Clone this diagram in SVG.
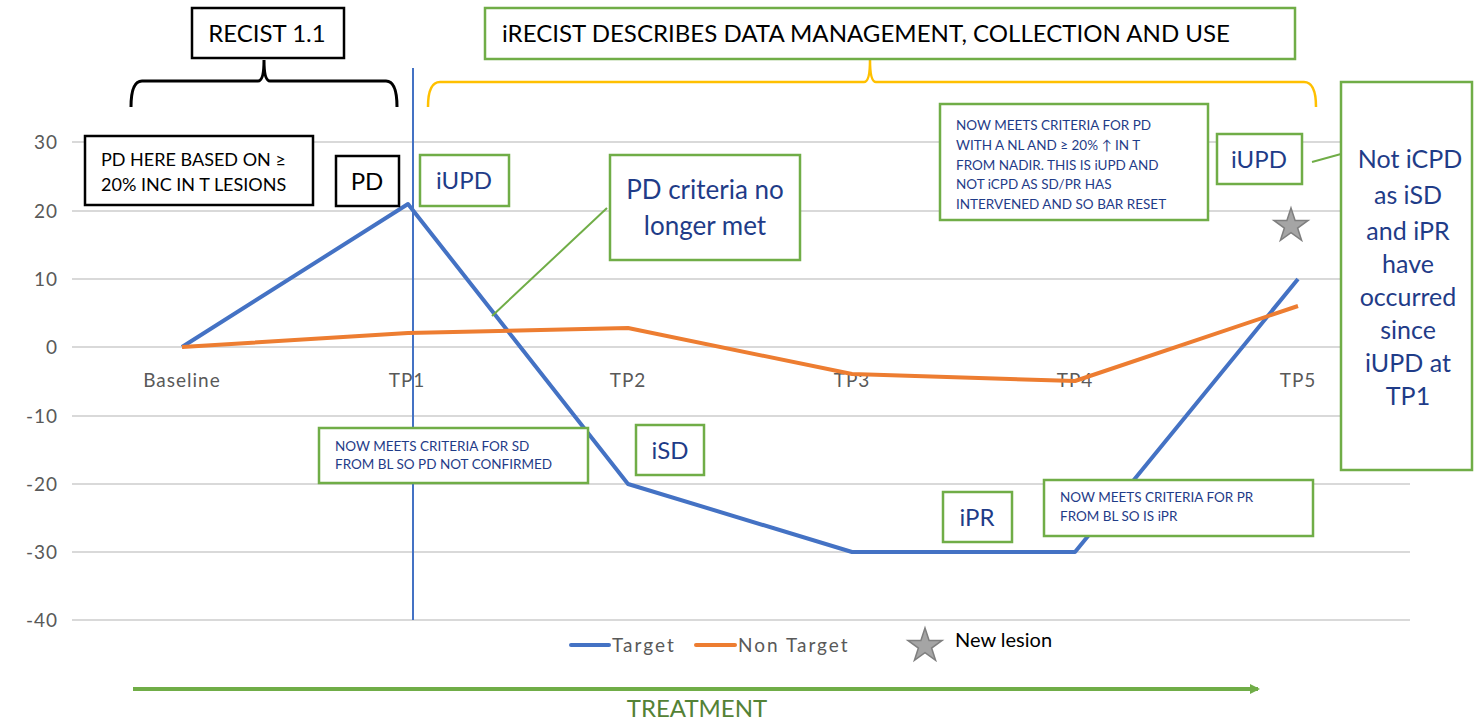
<svg xmlns="http://www.w3.org/2000/svg" width="1476" height="721" viewBox="0 0 1476 721">
<style>
.grid{stroke:#d9d9d9;stroke-width:2}
.ax{font-family:Lato,"Liberation Sans",sans-serif;font-size:19px;fill:#595959}
.bk{fill:#fff;stroke:#000;stroke-width:2.5}
.gn{fill:#fff;stroke:#70ad47;stroke-width:2.5}
.t{font-family:Lato,"Liberation Sans",sans-serif;fill:#000}
.nv{font-family:Lato,"Liberation Sans",sans-serif;fill:#1f3c88}
.sm{font-size:13.5px}
.star{fill:#a5a5a5;stroke:#7f7f7f;stroke-width:1.5}
</style>
<defs>
<marker id="ah" markerWidth="10" markerHeight="10" refX="8" refY="5" orient="auto" markerUnits="userSpaceOnUse"><path d="M0,0 L10,5 L0,10 z" fill="#70ad47"/></marker>
</defs>
<rect width="1476" height="721" fill="#fff"/>
<g id="axes">
<line class="grid" x1="72" y1="142" x2="1410" y2="142"/>
<line class="grid" x1="72" y1="211" x2="1410" y2="211"/>
<line class="grid" x1="72" y1="279" x2="1410" y2="279"/>
<line class="grid" x1="72" y1="347" x2="1410" y2="347"/>
<line class="grid" x1="72" y1="416" x2="1410" y2="416"/>
<line class="grid" x1="72" y1="484" x2="1410" y2="484"/>
<line class="grid" x1="72" y1="552" x2="1410" y2="552"/>
<line class="grid" x1="72" y1="620" x2="1410" y2="620"/>
<g class="ax" text-anchor="end" letter-spacing="1">
<text x="58" y="149">30</text><text x="58" y="218">20</text><text x="58" y="286">10</text><text x="58" y="354">0</text>
<text x="58" y="423">-10</text><text x="58" y="491">-20</text><text x="58" y="559">-30</text><text x="58" y="627">-40</text>
</g>
<g class="ax" text-anchor="middle" letter-spacing="1">
<text x="182" y="387">Baseline</text><text x="407" y="387">TP1</text><text x="628" y="387">TP2</text><text x="852" y="387">TP3</text><text x="1075" y="387">TP4</text><text x="1298" y="387">TP5</text>
</g>
</g>
<g id="connectors">
<line x1="413" y1="68" x2="413" y2="620" stroke="#4472c4" stroke-width="2"/>
<polyline points="182,347 408,204 628,484 852,552 1075,552 1298,279" fill="none" stroke="#4472c4" stroke-width="4" stroke-linejoin="round"/>
<polyline points="182,347 408,333 628,328 852,374 1075,381 1298,306" fill="none" stroke="#ed7d31" stroke-width="4" stroke-linejoin="round"/>
<path d="M131,107 Q131,81 142,81 L258,81 Q264,81 264,60 Q264,81 270,81 L386,81 Q397,81 397,107" fill="none" stroke="#000" stroke-width="3"/>
<path d="M428,107 Q428,82 440,82 L864,82 Q870,82 870,60 Q870,82 876,82 L1304,82 Q1316,82 1316,107" fill="none" stroke="#ffc000" stroke-width="2.5"/>
<line x1="607" y1="208" x2="492" y2="316" stroke="#70ad47" stroke-width="2"/>
<line x1="1312" y1="162" x2="1341" y2="154" stroke="#70ad47" stroke-width="2"/>
<line x1="133" y1="689" x2="1258" y2="689" stroke="#70ad47" stroke-width="4" marker-end="url(#ah)"/>
</g>
<g id="recist"><rect class="bk" x="192" y="8" width="152" height="50"/><text class="t" x="267" y="42" font-size="24" text-anchor="middle">RECIST 1.1</text></g>
<g id="irecist"><rect class="gn" x="485" y="8" width="810" height="51"/><text class="t" x="502" y="42" font-size="24" textLength="728" lengthAdjust="spacingAndGlyphs">iRECIST DESCRIBES DATA MANAGEMENT, COLLECTION AND USE</text></g>
<g id="pdhere"><rect class="bk" x="85" y="136" width="228" height="69"/><text class="t" x="101" y="166" font-size="18">PD HERE BASED ON ≥</text><text class="t" x="101" y="191" font-size="18">20% INC IN T LESIONS</text></g>
<g id="pd"><rect class="bk" x="336" y="156" width="63" height="50"/><text class="t" x="367" y="190" font-size="24" text-anchor="middle">PD</text></g>
<g id="iupd1"><rect class="gn" x="420" y="155" width="89" height="51"/><text class="nv" x="464" y="189" font-size="24" text-anchor="middle">iUPD</text></g>
<g id="pdcrit"><rect class="gn" x="610" y="155" width="190" height="105"/><text class="nv" x="705" y="199" font-size="26" text-anchor="middle">PD criteria no</text><text class="nv" x="705" y="235" font-size="26" text-anchor="middle">longer met</text></g>
<g id="pdnote"><rect class="gn" x="940" y="104" width="268" height="116"/>
<text class="nv sm" x="956" y="130">NOW MEETS CRITERIA FOR PD</text>
<text class="nv sm" x="956" y="150">WITH A NL AND ≥ 20% ↑  IN T</text>
<text class="nv sm" x="956" y="170">FROM NADIR.  THIS IS iUPD AND</text>
<text class="nv sm" x="956" y="189">NOT iCPD AS SD/PR HAS</text>
<text class="nv sm" x="956" y="209">INTERVENED AND SO BAR RESET</text></g>
<g id="iupd2"><rect class="gn" x="1217" y="134" width="85" height="50"/><text class="nv" x="1259" y="168" font-size="24" text-anchor="middle">iUPD</text></g>
<g id="noticpd"><rect class="gn" x="1341" y="82" width="131" height="388"/>
<g class="nv" font-size="25" text-anchor="middle">
<text x="1410" y="168">Not iCPD</text><text x="1408" y="204">as iSD</text><text x="1408" y="240">and iPR</text><text x="1408" y="273">have</text><text x="1408" y="306">occurred</text><text x="1408" y="339">since</text><text x="1408" y="372">iUPD at</text><text x="1408" y="405">TP1</text>
</g></g>
<g id="newlesion-star"><polygon class="star" points="1291,208 1295.1,220.4 1308.1,220.4 1297.6,228.1 1301.6,240.4 1291,232.7 1280.4,240.4 1284.4,228.1 1273.9,220.4 1286.9,220.4"/></g>
<g id="sdnote"><rect class="gn" x="319" y="428" width="269" height="55"/><text class="nv sm" x="335" y="451">NOW MEETS CRITERIA FOR SD</text><text class="nv sm" x="335" y="469">FROM BL SO PD NOT CONFIRMED</text></g>
<g id="isd"><rect class="gn" x="636" y="425" width="68" height="50"/><text class="nv" x="670" y="459" font-size="24" text-anchor="middle">iSD</text></g>
<g id="ipr"><rect class="gn" x="943" y="492" width="69" height="50"/><text class="nv" x="977" y="526" font-size="24" text-anchor="middle">iPR</text></g>
<g id="prnote"><rect class="gn" x="1044" y="480" width="269" height="56"/><text class="nv sm" x="1060" y="502">NOW MEETS CRITERIA FOR PR</text><text class="nv sm" x="1060" y="521">FROM BL SO IS iPR</text></g>
<g id="legend">
<line x1="571" y1="645" x2="609" y2="645" stroke="#4472c4" stroke-width="4" stroke-linecap="round"/>
<text class="ax" x="612" y="652" letter-spacing="2">Target</text>
<line x1="696" y1="645" x2="735" y2="645" stroke="#ed7d31" stroke-width="4" stroke-linecap="round"/>
<text class="ax" x="738" y="652" letter-spacing="2">Non Target</text>
<polygon class="star" points="925,628 929.1,640.4 942.1,640.4 931.6,648.1 935.6,660.4 925,652.7 914.4,660.4 918.4,648.1 907.9,640.4 920.9,640.4"/>
<text class="t" x="955" y="647" font-size="20">New lesion</text>
</g>
<g id="treatment"><text x="697" y="717" font-family="Lato,'Liberation Sans',sans-serif" font-size="24" fill="#548235" text-anchor="middle">TREATMENT</text></g>
</svg>
